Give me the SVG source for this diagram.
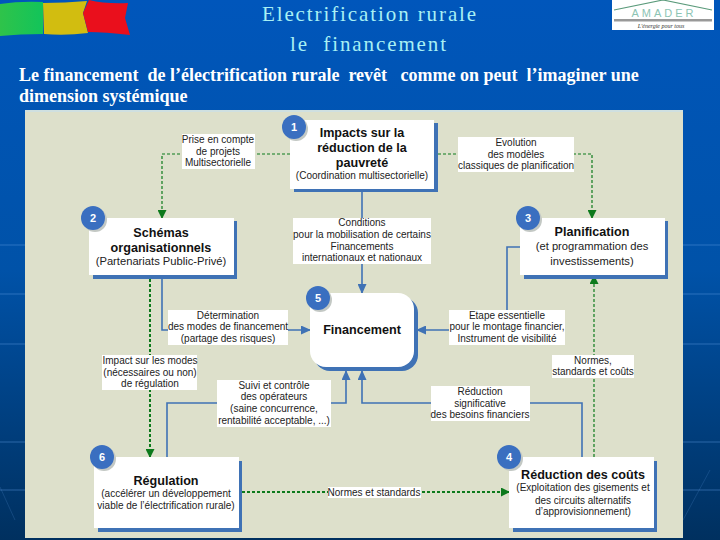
<svg xmlns="http://www.w3.org/2000/svg" width="720" height="540" viewBox="0 0 720 540">
<style>
.t{font-family:"Liberation Sans",Arial,sans-serif;font-size:10px;fill:#222;text-anchor:middle}
.h{font-family:"Liberation Sans",Arial,sans-serif;font-size:12.6px;font-weight:bold;fill:#111;text-anchor:middle}
.s{font-family:"Liberation Sans",Arial,sans-serif;font-size:11.2px;fill:#222;text-anchor:middle}
.n{font-family:"Liberation Sans",Arial,sans-serif;font-size:11px;font-weight:bold;fill:#fff;text-anchor:middle}
.b{font-family:"Liberation Serif","Times New Roman",serif;font-size:18px;font-weight:bold;fill:#fff;white-space:pre}
.title{font-family:"Liberation Serif","Times New Roman",serif;font-size:21px;fill:#a8f0f4;text-anchor:middle;letter-spacing:1.9px;white-space:pre}
.bl{fill:none;stroke:#3f72b5;stroke-width:1.6}
.gr{fill:none;stroke:#0d7a1c;stroke-width:1.2;stroke-dasharray:3 2}
.grh{fill:none;stroke:#0d7a1c;stroke-width:2;stroke-dasharray:3 2}
.w{fill:#fff}
.sh{fill:#3f72b5}
.bd{fill:#3a6fc0}
.gl{stroke:#5f9be0;stroke-width:1.5;opacity:.3}
.gd{stroke:#5f9be0;stroke-width:1;opacity:.2}
</style>
<defs>
<linearGradient id="bg" x1="0" y1="0" x2="0" y2="1"><stop offset="0" stop-color="#0056bb"/><stop offset=".5" stop-color="#0052a8"/><stop offset="1" stop-color="#00305f"/></linearGradient>
<linearGradient id="fg" x1="0" y1="0" x2="1" y2="0"><stop offset="0" stop-color="#2fc34a"/><stop offset="1" stop-color="#12c45a"/></linearGradient>
<marker id="ab" markerWidth="10" markerHeight="9" refX="9" refY="4.5" orient="auto" markerUnits="userSpaceOnUse"><path d="M0 0L10 4.5L0 9z" fill="#3f72b5"/></marker>
<marker id="ag" markerWidth="9" markerHeight="9" refX="8" refY="4.5" orient="auto" markerUnits="userSpaceOnUse"><path d="M0 0L9 4.5L0 9z" fill="#0d7a1c"/></marker>
</defs>
<rect width="720" height="540" fill="url(#bg)"/>
<path class="gl" d="M0 245H720M0 294H720M0 344H720M0 442H720M0 490H720"/>
<path class="gd" d="M0 487L15 520M683 520L710 470"/>
<g id="flag">
<path d="M0 4Q20 1 43 2V34Q20 34 0 36z" fill="url(#fg)"/>
<path d="M43 3Q65 3 87 1L83 13L88 33Q65 36 44 34z" fill="#d2bd10"/>
<path d="M89 0Q105 4 128 3L125 18L130 35Q105 32 88 32L83 13z" fill="#ea0f1c"/>
</g>
<g id="logo">
<rect x="612" y="0" width="102" height="30" fill="#fff"/>
<path d="M614 10L663 0L712 10" fill="none" stroke="#5a9a7a" stroke-width="1.2"/>
<rect x="614" y="19" width="98" height="2.5" fill="#999"/>
<text x="664" y="17" font-family="Liberation Sans,sans-serif" font-size="11" fill="#8cc4b4" text-anchor="middle" letter-spacing="3">AMADER</text>
<text x="661" y="28" font-family="Liberation Serif,serif" font-size="6" font-style="italic" fill="#333" text-anchor="middle">L'énergie pour tous</text>
</g>
<text class="title" x="370" y="21">Electrification rurale</text>
<text class="title" x="369" y="51">le  financement</text>
<text class="b" x="19" y="81">Le financement  de l’électrification rurale  revêt   comme on peut  l’imaginer une</text>
<text class="b" x="19" y="102">dimension systémique</text>
<rect x="25" y="110" width="658" height="428" fill="#dde0cb"/>
<rect x="25" y="110" width="658" height="2" fill="#cfe0e0"/>
<g id="connectors">
<path class="gr" d="M290 154H162V218" marker-end="url(#ag)"/>
<path class="gr" d="M438 154H592V218" marker-end="url(#ag)"/>
<path class="grh" d="M150 279V457" marker-end="url(#ag)"/>
<path class="gr" d="M594 457V276" marker-end="url(#ag)"/>
<path class="grh" d="M242 492H509" marker-end="url(#ag)"/>
<path class="bl" d="M362 192V293" marker-end="url(#ab)"/>
<path class="bl" d="M162 279V330H310" marker-end="url(#ab)"/>
<path class="bl" d="M520 247H507V330H417" marker-end="url(#ab)"/>
<path class="bl" d="M167 457V403H346V371" marker-end="url(#ab)"/>
<path class="bl" d="M582 457V403H362V371" marker-end="url(#ab)"/>
</g>
<g id="node1"><rect class="sh" x="294" y="123" width="144" height="69"/><rect class="w" x="290" y="120" width="144" height="69"/>
<text class="h" x="362" y="137">Impacts sur la</text><text class="h" x="362" y="152">réduction de la</text><text class="h" x="362" y="167">pauvreté</text><text class="t" x="362" y="179">(Coordination multisectorielle)</text>
<circle cx="296" cy="129" r="12" fill="#c3c8c4"/><circle class="bd" cx="294" cy="127" r="12"/><text class="n" x="294" y="131">1</text></g>
<g id="node2"><rect class="sh" x="93" y="221" width="144" height="58"/><rect class="w" x="89" y="218" width="145" height="57"/>
<text class="h" x="161" y="237">Schémas</text><text class="h" x="161" y="252">organisationnels</text><text class="s" x="161" y="265">(Partenariats Public-Privé)</text>
<circle cx="95" cy="220" r="12" fill="#c3c8c4"/><circle class="bd" cx="93" cy="218" r="12"/><text class="n" x="93" y="222">2</text></g>
<g id="node3"><rect class="sh" x="524" y="221" width="144" height="58"/><rect class="w" x="520" y="218" width="145" height="57"/>
<text class="h" x="592" y="236">Planification</text><text class="s" x="592" y="250">(et programmation des</text><text class="s" x="592" y="265">investissements)</text>
<circle cx="530" cy="220" r="12" fill="#c3c8c4"/><circle class="bd" cx="528" cy="218" r="12"/><text class="n" x="528" y="222">3</text></g>
<g id="node5"><rect class="sh" x="314" y="297" width="104" height="74" rx="16"/><rect class="w" x="310" y="293" width="104" height="74" rx="16"/>
<text class="h" x="362" y="334">Financement</text>
<circle cx="320" cy="300" r="12" fill="#c3c8c4"/><circle class="bd" cx="318" cy="298" r="12"/><text class="n" x="318" y="302">5</text></g>
<g id="node6"><rect class="sh" x="98" y="461" width="144" height="71"/><rect class="w" x="94" y="457" width="145" height="71"/>
<text class="h" x="166" y="485">Régulation</text><text class="t" x="166" y="497">(accélérer un développement</text><text class="t" x="166" y="509">viable de l’électrification rurale)</text>
<circle cx="104" cy="459" r="12" fill="#c3c8c4"/><circle class="bd" cx="102" cy="457" r="12"/><text class="n" x="102" y="461">6</text></g>
<g id="node4"><rect class="sh" x="513" y="461" width="144" height="71"/><rect class="w" x="509" y="457" width="145" height="71"/>
<text class="h" x="583" y="479">Réduction des coûts</text><text class="t" x="583" y="491">(Exploitation des gisements et</text><text class="t" x="583" y="504">des circuits alternatifs</text><text class="t" x="583" y="515">d’approvisionnement)</text>
<circle cx="511" cy="459" r="12" fill="#c3c8c4"/><circle class="bd" cx="509" cy="457" r="12"/><text class="n" x="509" y="461">4</text></g>
<g id="labels">
<g id="l1"><rect class="w" x="182" y="134" width="73" height="35"/><text class="t" x="218" y="143">Prise en compte</text><text class="t" x="218" y="155">de projets</text><text class="t" x="218" y="166">Multisectorielle</text></g>
<g id="l2"><rect class="w" x="458" y="137" width="116" height="35"/><text class="t" x="516" y="146">Evolution</text><text class="t" x="516" y="158">des modèles</text><text class="t" x="516" y="169">classiques de planification</text></g>
<g id="l3"><rect class="w" x="293" y="218" width="138" height="46"/><text class="t" x="362" y="226">Conditions</text><text class="t" x="362" y="238">pour la mobilisation de certains</text><text class="t" x="362" y="250">Financements</text><text class="t" x="362" y="261">internationaux et nationaux</text></g>
<g id="l4"><rect class="w" x="168" y="310" width="120" height="35"/><text class="t" x="228" y="319">Détermination</text><text class="t" x="228" y="330">des modes de financement</text><text class="t" x="228" y="342">(partage des risques)</text></g>
<g id="l5"><rect class="w" x="449" y="310" width="116" height="35"/><text class="t" x="507" y="319">Etape essentielle</text><text class="t" x="507" y="330">pour le montage financier,</text><text class="t" x="507" y="342">Instrument de visibilité</text></g>
<g id="l6"><rect class="w" x="102" y="355" width="95" height="35"/><text class="t" x="150" y="364">Impact sur les modes</text><text class="t" x="150" y="376">(nécessaires ou non)</text><text class="t" x="150" y="387">de régulation</text></g>
<g id="l7"><rect class="w" x="217" y="380" width="114" height="47"/><text class="t" x="274" y="389">Suivi et contrôle</text><text class="t" x="274" y="400">des opérateurs</text><text class="t" x="274" y="412">(saine concurrence,</text><text class="t" x="274" y="424">rentabilité acceptable, ...)</text></g>
<g id="l8"><rect class="w" x="431" y="386" width="99" height="35"/><text class="t" x="480" y="395">Réduction</text><text class="t" x="480" y="407">significative</text><text class="t" x="480" y="418">des besoins financiers</text></g>
<g id="l9"><rect class="w" x="552" y="355" width="82" height="23"/><text class="t" x="593" y="364">Normes,</text><text class="t" x="593" y="375">standards et coûts</text></g>
<g id="l10"><rect class="w" x="328" y="487" width="93" height="11"/><text class="t" x="374" y="496">Normes et standards</text></g>
</g>
</svg>
